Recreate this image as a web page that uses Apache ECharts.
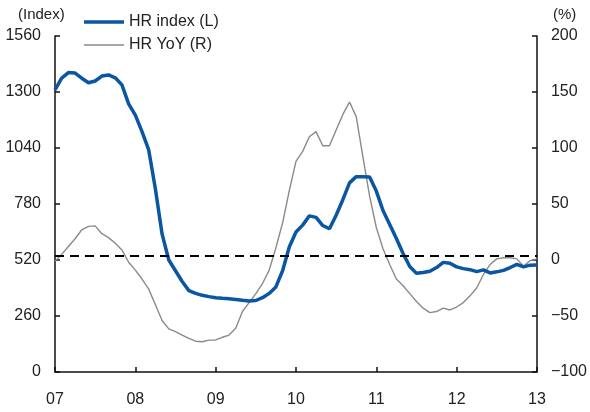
<!DOCTYPE html>
<html>
<head>
<meta charset="utf-8">
<script src="https://cdn.jsdelivr.net/npm/echarts@6/dist/echarts.min.js"></script>
<style>html,body{margin:0;padding:0;background:#fff}#c{width:590px;height:412px}</style>
</head>
<body>
<div id="c"></div>
<script>
// Monthly, Jan 2007 .. Jan 2013
var yearLabels = ['07','08','09','10','11','12','13'];
var leftTicks = [0, 260, 520, 780, 1040, 1300, 1560];
var rightTicks = [-100, -50, 0, 50, 100, 150, 200];
var hrIndex = [
  1310,1364,1390,1388,1364,1343,1351,1374,1379,1366,1333,1245,
  1193,1116,1031,850,640,520,470,420,378,365,356,350,
  345,342,340,337,333,330,332,345,365,395,470,580,
  650,682,725,718,680,665,728,800,878,907,907,905,
  840,750,685,620,550,490,458,462,468,485,509,505,
  488,480,475,466,474,460,465,472,485,500,488,496,
  497
];
var hrYoY = [
  -1,5,12,19,27,30,30.5,23.5,20,15,9,-2,
  -9,-17,-26,-40,-54,-61.5,-64,-67,-70,-72.5,-73,-71.5,
  -71.4,-69,-67,-61,-46,-38,-30,-21,-9,11,33,62,
  88,97,110,114.6,102,102,116,130,141,128,92,57,
  29,10,-4,-17,-23,-30,-37,-43,-47,-46,-43,-44.6,
  -42,-38,-32,-25,-13,-4,1,2,2,1,-5.5,-0.5,
  1
];
var refLevel = 540;

var font = "'Liberation Sans', Arial, sans-serif";
var txt = '#222';
var blue = '#0b56a3', gray = '#8a8a8a';
function pairs(arr){ return arr.map(function(v,i){ return [i, v]; }); }

var chart = echarts.init(document.getElementById('c'));
chart.setOption({
  animation: false,
  textStyle: {fontFamily: font},
  grid: {left: 55, right: 51, top: 36, bottom: 40, containLabel: false},
  legend: {
    orient: 'vertical', left: 79, top: 9, itemWidth: 40, itemHeight: 14, itemGap: 7,
    symbolKeepAspect: true,
    textStyle: {fontSize: 16, color: txt, fontFamily: font},
    data: [
      {name: 'HR index (L)', icon: 'path://M0,0 L40,0 L40,3.5 L0,3.5 Z', itemStyle: {color: blue}},
      {name: 'HR YoY (R)', icon: 'path://M0,0 L40,0 L40,1.4 L0,1.4 Z', itemStyle: {color: gray}}
    ]
  },
  graphic: [
    {type: 'text', left: 18, top: 7, style: {text: '(Index)', font: '15px ' + font, fill: txt}},
    {type: 'text', left: 553, top: 7, style: {text: '(%)', font: '15px ' + font, fill: txt}}
  ],
  xAxis: {
    type: 'value', min: 0, max: 72, interval: 12,
    axisLine: {lineStyle: {color: '#111', width: 1.5}},
    axisTick: {inside: true, length: 5, lineStyle: {color: '#111', width: 1.5}},
    axisLabel: {margin: 20, fontSize: 16, color: txt, fontFamily: font,
      formatter: function(v){ return yearLabels[Math.round(v/12)]; }},
    splitLine: {show: false}
  },
  yAxis: [
    {
      type: 'value', min: leftTicks[0], max: leftTicks[leftTicks.length-1], interval: 260,
      axisLine: {show: true, lineStyle: {color: '#111', width: 1.5}},
      axisTick: {show: true, inside: true, length: 5, lineStyle: {color: '#111', width: 1.5}},
      axisLabel: {margin: 14, fontSize: 16, color: txt, fontFamily: font,
        formatter: function(v){ return String(v); }},
      splitLine: {show: false}
    },
    {
      type: 'value', min: rightTicks[0], max: rightTicks[rightTicks.length-1], interval: 50,
      position: 'right',
      axisLine: {show: true, lineStyle: {color: '#111', width: 1.5}},
      axisTick: {show: true, inside: true, length: 5, lineStyle: {color: '#111', width: 1.5}},
      axisLabel: {margin: 14, fontSize: 16, color: txt, fontFamily: font,
        formatter: function(v){ return v < 0 ? '\u2212' + Math.abs(v) : String(v); }},
      splitLine: {show: false}
    }
  ],
  series: [
    {
      name: 'HR YoY (R)', type: 'line', yAxisIndex: 1, data: pairs(hrYoY),
      symbol: 'none', smooth: false,
      lineStyle: {color: gray, width: 1.4}, itemStyle: {color: gray}, z: 2
    },
    {
      name: 'HR index (L)', type: 'line', yAxisIndex: 0, data: pairs(hrIndex),
      symbol: 'none', smooth: false,
      lineStyle: {color: blue, width: 3.5}, itemStyle: {color: blue}, z: 3,
      markLine: {
        silent: true, symbol: 'none', label: {show: false},
        lineStyle: {color: '#000', width: 2, type: [9, 6]},
        data: [{yAxis: refLevel}]
      }
    }
  ]
});
</script>
</body>
</html>
